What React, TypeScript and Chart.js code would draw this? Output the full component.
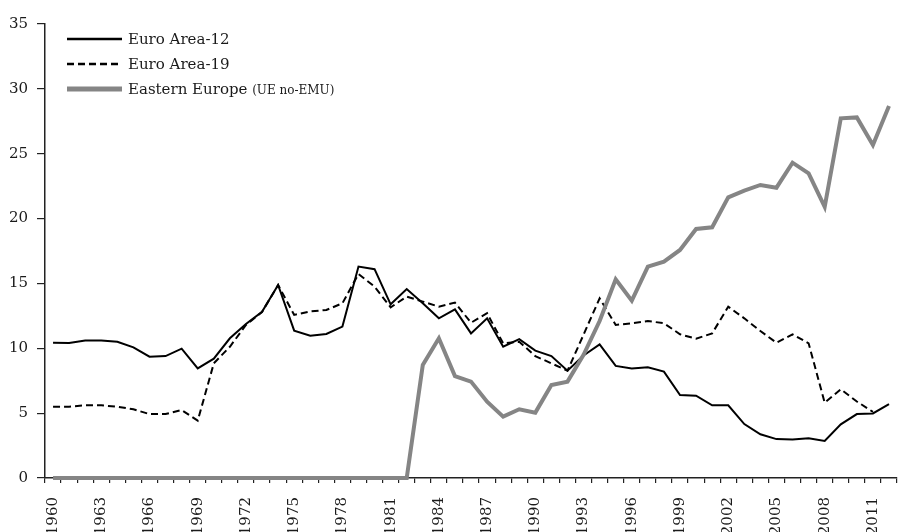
import React, { useEffect, useRef } from "react";
import { Chart, registerables } from "chart.js";

Chart.register(...registerables);

const years: string[] = [];
for (let y = 1960; y <= 2012; y++) years.push(String(y));

const euroArea12: (number | null)[] = [
  10.43, 10.4, 10.6, 10.6, 10.5, 10.07, 9.35, 9.4, 9.97, 8.45,
  9.2, 10.77, 11.87, 12.82, 14.88, 11.36, 10.97, 11.1, 11.67, 16.3,
  16.1, 13.39, 14.57, 13.47, 12.31, 13.0, 11.15, 12.31, 10.12, 10.7,
  9.82, 9.4, 8.27, 9.45, 10.3, 8.64, 8.45, 8.53, 8.2, 6.4,
  6.35, 5.6, 5.6, 4.16, 3.37, 3.0, 2.96, 3.06, 2.85, 4.14,
  4.93, 4.98, 5.7,
];

const euroArea19: (number | null)[] = [
  5.5, 5.5, 5.6, 5.6, 5.5, 5.3, 4.93, 4.93, 5.24, 4.42,
  8.84, 10.12, 11.8, 12.8, 14.88, 12.57, 12.85, 12.95, 13.47, 15.73,
  14.75, 13.16, 13.98, 13.6, 13.21, 13.52, 11.97, 12.7, 10.38, 10.5,
  9.4, 8.84, 8.27, 11.05, 13.85, 11.8, 11.93, 12.1, 11.93, 11.08,
  10.74, 11.15, 13.21, 12.31, 11.33, 10.43, 11.08, 10.38, 5.81, 6.84,
  5.9, 5.1, null,
];

const easternEurope: (number | null)[] = [
  0, 0, 0, 0, 0, 0, 0, 0, 0, 0,
  0, 0, 0, 0, 0, 0, 0, 0, 0, 0,
  0, 0, 0, 8.71, 10.77, 7.86, 7.43, 5.88, 4.73, 5.3,
  5.04, 7.17, 7.43, 9.5, 12.1, 15.32, 13.67, 16.29, 16.68, 17.58,
  19.2, 19.33, 21.64, 22.15, 22.59, 22.38, 24.31, 23.49, 20.9, 27.73,
  27.8, 25.67, 28.68,
];

const yTicks = [0, 5, 10, 15, 20, 25, 30, 35];

const FONT = "'DejaVu Serif', serif";
const TEXT = "#1a1a1a";
const AXIS = "#222222";

const CANVAS_W = 921;
const CANVAS_H = 540;
const PLOT_BOTTOM = 478;

export default function App() {
  const ref = useRef<HTMLCanvasElement | null>(null);

  useEffect(() => {
    if (!ref.current) return;
    const chart = new Chart(ref.current, {
      type: "line",
      data: {
        labels: years,
        datasets: [
          {
            label: "Eastern Europe (UE no-EMU)",
            data: easternEurope,
            borderColor: "#858585",
            borderWidth: 4,
            pointRadius: 0,
            tension: 0,
            fill: false,
            clip: false as any,
            order: 0,
          },
          {
            label: "Euro Area-12",
            data: euroArea12,
            borderColor: "#000000",
            borderWidth: 2,
            pointRadius: 0,
            tension: 0,
            fill: false,
            order: 1,
          },
          {
            label: "Euro Area-19",
            data: euroArea19,
            borderColor: "#000000",
            borderWidth: 2,
            borderDash: [7, 4],
            pointRadius: 0,
            tension: 0,
            fill: false,
            order: 1,
          },
        ],
      },
      options: {
        responsive: false,
        animation: false,
        devicePixelRatio: 1,
        layout: { padding: { top: 24, left: 0, right: 0, bottom: 0 } },
        plugins: {
          legend: { display: false },
          tooltip: { enabled: false },
        },
        scales: {
          x: {
            type: "category",
            offset: true,
            grid: {
              offset: true,
              drawOnChartArea: false,
              drawTicks: true,
              tickLength: 5,
              color: AXIS,
              lineWidth: 1.2,
            },
            border: { display: true, color: AXIS, width: 1.5 },
            ticks: {
              autoSkip: false,
              maxRotation: 90,
              minRotation: 90,
              padding: 14,
              color: TEXT,
              font: { family: FONT, size: 15 },
              callback: (_v: any, i: number) => (i % 3 === 0 ? years[i] : ""),
            },
            afterFit: (scale: any) => {
              scale.height = CANVAS_H - PLOT_BOTTOM;
            },
          },
          y: {
            min: 0,
            max: 35,
            grid: {
              drawOnChartArea: false,
              drawTicks: true,
              tickLength: 8,
              color: AXIS,
              lineWidth: 1.2,
            },
            border: { display: true, color: AXIS, width: 1.5 },
            afterBuildTicks: (scale: any) => {
              scale.ticks = yTicks.map((v) => ({ value: v }));
            },
            ticks: {
              padding: 9,
              color: TEXT,
              font: { family: FONT, size: 15 },
            },
            afterFit: (scale: any) => {
              scale.width = 45;
            },
          },
        },
      },
    });
    return () => chart.destroy();
  }, []);

  const rowStyle = (top: number): React.CSSProperties => ({
    position: "absolute",
    left: 67,
    top,
    height: 20,
    display: "flex",
    alignItems: "center",
    whiteSpace: "nowrap",
    fontFamily: FONT,
    fontSize: 15,
    color: TEXT,
  });

  return (
    <div
      style={{
        position: "fixed",
        left: 0,
        top: 0,
        width: 915,
        height: 532,
        overflow: "hidden",
        background: "#ffffff",
      }}
    >
      <canvas
        ref={ref}
        width={CANVAS_W}
        height={CANVAS_H}
        style={{ position: "absolute", left: 0, top: 0, width: CANVAS_W, height: CANVAS_H }}
      />
      <div style={rowStyle(29)}>
        <svg width={55} height={8} style={{ marginRight: 6 }}>
          <line x1={0} y1={4} x2={55} y2={4} stroke="#000" strokeWidth={2.5} />
        </svg>
        <span>Euro Area-12</span>
      </div>
      <div style={rowStyle(53.5)}>
        <svg width={55} height={8} style={{ marginRight: 6 }}>
          <line x1={0} y1={4} x2={55} y2={4} stroke="#000" strokeWidth={2.5} strokeDasharray="7 4" />
        </svg>
        <span>Euro Area-19</span>
      </div>
      <div style={rowStyle(79)}>
        <svg width={55} height={8} style={{ marginRight: 6 }}>
          <line x1={0} y1={4} x2={55} y2={4} stroke="#858585" strokeWidth={5} />
        </svg>
        <span>
          Eastern Europe <span style={{ fontSize: 12 }}>(UE no-EMU)</span>
        </span>
      </div>
    </div>
  );
}
